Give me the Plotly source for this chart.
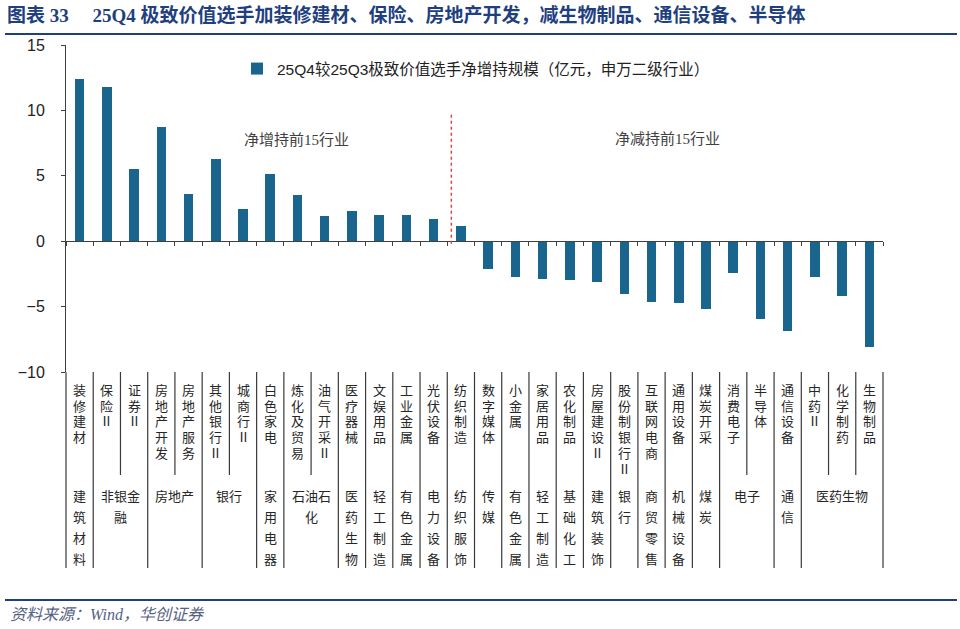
import plotly.graph_objects as go

# ---------------- data ----------------
categories = ["装修建材", "保险Ⅱ", "证券Ⅱ", "房地产开发", "房地产服务", "其他银行Ⅱ", "城商行Ⅱ",
              "白色家电", "炼化及贸易", "油气开采Ⅱ", "医疗器械", "文娱用品", "工业金属", "光伏设备",
              "纺织制造", "数字媒体", "小金属", "家居用品", "农化制品", "房屋建设Ⅱ", "股份制银行Ⅱ",
              "互联网电商", "通用设备", "煤炭开采", "消费电子", "半导体", "通信设备", "中药Ⅱ",
              "化学制药", "生物制品"]
values = [12.4, 11.8, 5.5, 8.7, 3.6, 6.3, 2.5, 5.1, 3.5, 1.9, 2.3, 2.0, 2.0, 1.7, 1.2,
          -2.1, -2.7, -2.9, -2.95, -3.15, -4.05, -4.65, -4.7, -5.2, -2.4, -5.95, -6.9, -2.7, -4.2, -8.1]
group_names = ["建筑材料", "非银金融", "房地产", "银行", "家用电器", "石油石化", "医药生物", "轻工制造",
               "有色金属", "电力设备", "纺织服饰", "传媒", "有色金属", "轻工制造", "基础化工", "建筑装饰",
               "银行", "商贸零售", "机械设备", "煤炭", "电子", "通信", "医药生物"]
group_spans = [1, 2, 2, 2, 1, 2, 1, 1, 1, 1, 1, 1, 1, 1, 1, 1, 1, 1, 1, 1, 2, 1, 3]
y_ticks = [-10, -5, 0, 5, 10, 15]
series_name = "25Q4较25Q3极致价值选手净增持规模（亿元，申万二级行业）"
split_x = 13.65          # red dashed divider
split_text = ["净增持前15行业", "净减持前15行业"]
title_text = "<b>图表 33&nbsp;&nbsp;&nbsp;&nbsp;&nbsp;25Q4 极致价值选手加装修建材、保险、房地产开发，减生物制品、通信设备、半导体</b>"
source_text = "资料来源：Wind，华创证券"

# ---------------- layout geometry ----------------
W, H = 960, 629
L, R, T, B = 66, 77, 45, 257
plot_h = H - T - B
def py(px):  # pixel y -> paper y
    return (H - B - px) / plot_h
def pxx(px):  # pixel x -> paper x
    return (px - L) / (W - L - R)

N = len(categories)
x = list(range(N))
BAR = "#1A658E"
NAVY = "#1F3F7F"
SEP = "#3a3a3a"
CJK = "Noto Sans CJK SC"

fig = go.Figure()
fig.add_trace(go.Bar(x=x, y=values, width=0.35, marker=dict(color=BAR, line=dict(width=0)),
                     name=series_name, showlegend=True))

shapes = []
annotations = []

# category labels (stacked vertical text)
for i, c in enumerate(categories):
    txt = "<br>".join(f'<span style="font-size:13px">{ch}</span>' for ch in c)
    annotations.append(dict(x=i, xref="x", y=py(378), yref="paper", yanchor="top", xanchor="center",
                            text=txt, showarrow=False, font=dict(family=CJK, size=12.1, color="#262626")))

# group labels + separators
per_line = {1: 1, 2: 3, 3: 4}
start = 0
for g, span in zip(group_names, group_spans):
    center = start + (span - 1) / 2
    n = per_line[span]
    lines = [g[k:k + n] for k in range(0, len(g), n)]
    for j, ln in enumerate(lines):
        annotations.append(dict(x=center, xref="x", y=py(495 + j * 21.3), yref="paper",
                                yanchor="middle", xanchor="center", text=ln, showarrow=False,
                                font=dict(family=CJK, size=13, color="#262626")))
    # internal separators
    for k in range(start, start + span - 1):
        shapes.append(dict(type="line", xref="x", yref="paper", x0=k + 0.5, x1=k + 0.5,
                           y0=0, y1=py(475), line=dict(color=SEP, width=1.2)))
    end = start + span
    if end < N:
        shapes.append(dict(type="line", xref="x", yref="paper", x0=end - 0.5, x1=end - 0.5,
                           y0=0, y1=py(568), line=dict(color=SEP, width=1.2)))
    start = end

# outer edges of label table
for xe in (0, 1):
    shapes.append(dict(type="line", xref="paper", yref="paper", x0=xe, x1=xe, y0=0, y1=py(568),
                       line=dict(color=SEP, width=1.2)))

# red dashed divider
shapes.append(dict(type="line", xref="x", yref="y", x0=split_x, x1=split_x, y0=-0.2, y1=9.85,
                   line=dict(color="#E8413C", width=1.5, dash="3px,3px")))

# title / source rules
shapes.append(dict(type="line", xref="paper", yref="paper", x0=pxx(5), x1=pxx(957), y0=py(34), y1=py(34),
                   line=dict(color=NAVY, width=2)))
shapes.append(dict(type="line", xref="paper", yref="paper", x0=pxx(5), x1=pxx(957), y0=py(600), y1=py(600),
                   line=dict(color=NAVY, width=2)))

annotations.append(dict(x=7.96, xref="x", y=7.75, yref="y", text=split_text[0], showarrow=False,
                        font=dict(family="Liberation Serif, " + CJK, size=15, color="#404040")))
annotations.append(dict(x=21.6, xref="x", y=7.8, yref="y", text=split_text[1], showarrow=False,
                        font=dict(family="Liberation Serif, " + CJK, size=15, color="#404040")))

annotations.append(dict(x=pxx(8), xref="paper", y=py(614), yref="paper", xanchor="left", yanchor="middle",
                        text=source_text, showarrow=False,
                        font=dict(family="Liberation Serif, " + CJK, size=16, color="#55627f", style="italic")))

fig.update_layout(
    width=W, height=H,
    margin=dict(l=L, r=R, t=T, b=B, autoexpand=False),
    paper_bgcolor="white", plot_bgcolor="white",
    title=dict(text=title_text, x=7 / W, xanchor="left", xref="container",
               y=1 - 15 / H, yanchor="middle", yref="container",
               font=dict(family="Liberation Serif, " + CJK, size=19, color=NAVY)),
    showlegend=True,
    legend=dict(x=(277 - 40) / W, xref="container", xanchor="left", y=1 - 69 / H, yref="container",
                yanchor="middle", bgcolor="rgba(0,0,0,0)",
                font=dict(family="Liberation Sans, " + CJK, size=15.5, color="#222")),
    xaxis=dict(range=[-0.5, N - 0.5], anchor="free", position=0.4, showline=True, linecolor="#404040",
               linewidth=1, ticks="outside", ticklen=4, tickcolor="#404040", tickmode="array",
               tickvals=[k - 0.5 for k in range(N + 1)], showticklabels=False, showgrid=False,
               zeroline=False),
    yaxis=dict(range=[-10, 15], tickvals=y_ticks, showline=True, linecolor="#404040", linewidth=1,
               ticks="outside", ticklen=4, tickcolor="#404040", showgrid=False, zeroline=False,
               ticklabelstandoff=13,
               tickfont=dict(family="Liberation Sans, Arial", size=16, color="#222")),
    shapes=shapes,
    annotations=annotations,
    bargap=0,
)

fig.write_html("out.html")
